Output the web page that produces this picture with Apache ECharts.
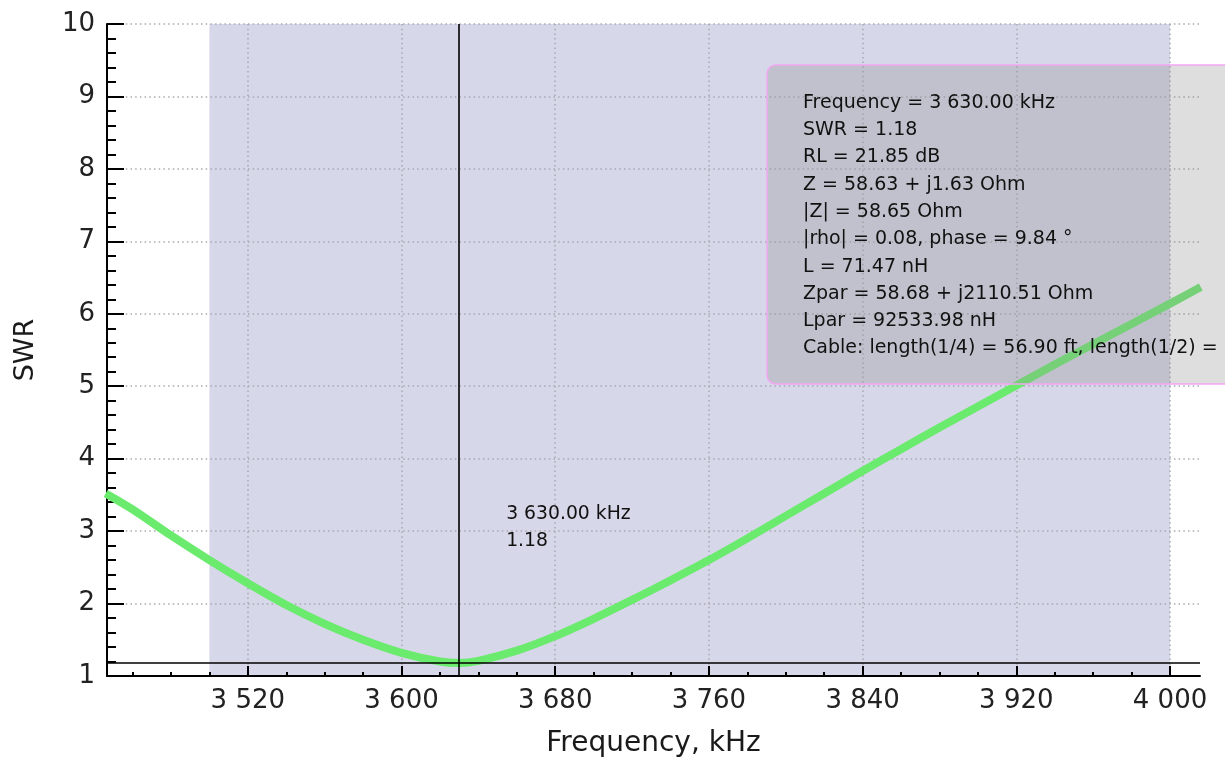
<!DOCTYPE html>
<html>
<head>
<meta charset="utf-8">
<script src="https://cdn.jsdelivr.net/npm/echarts@6/dist/echarts.min.js"></script>
<style>
html,body{margin:0;padding:0;background:#fff;}
#chart{width:1225px;height:763px;}
</style>
</head>
<body>
<div id="chart"></div>
<script>
// ---- data ----
const freqs = [3446, 3460, 3480, 3500, 3520, 3540, 3560, 3580, 3600, 3620, 3630, 3640, 3660, 3680, 3700, 3720, 3740, 3760, 3780, 3800, 3820, 3840, 3860, 3880, 3900, 3920, 3940, 3960, 3980, 4000, 4016];
const swr   = [3.52, 3.30, 2.94, 2.60, 2.28, 1.98, 1.72, 1.50, 1.32, 1.20, 1.18, 1.21, 1.35, 1.55, 1.79, 2.05, 2.32, 2.60, 2.90, 3.21, 3.52, 3.83, 4.13, 4.43, 4.72, 5.01, 5.30, 5.58, 5.86, 6.14, 6.37];
const xMajorTicks = [3520, 3600, 3680, 3760, 3840, 3920, 4000];
const xMinorTicks = [3460, 3480, 3500, 3540, 3560, 3580, 3620, 3640, 3660, 3700, 3720, 3740, 3780, 3800, 3820, 3860, 3880, 3900, 3940, 3960, 3980];
const xRange = [3446.7, 4015.6];
const yRange = [1, 10];
const bandRange = [3500, 4000];
const cursorFreq = 3630;
const cursorSWR = 1.18;
const cursorLabel = ['3 630.00 kHz', '1.18'];
const infoLines = [
  'Frequency = 3 630.00 kHz',
  'SWR = 1.18',
  'RL = 21.85 dB',
  'Z = 58.63 + j1.63 Ohm',
  '|Z| = 58.65 Ohm',
  '|rho| = 0.08, phase = 9.84 °',
  'L = 71.47 nH',
  'Zpar = 58.68 + j2110.51 Ohm',
  'Lpar = 92533.98 nH',
  'Cable: length(1/4) = 56.90 ft, length(1/2) ='
];
const xName = 'Frequency, kHz';
const yName = 'SWR';

// ---- chart ----
const FONT = 'DejaVu Sans';
const fmtK = v => Math.round(v).toString().replace(/\B(?=(\d{3})+(?!\d))/g, ' ');
const gridDots = {color: '#a9a9b3', width: 1.5, type: [1.5, 3.2]};

const chart = echarts.init(document.getElementById('chart'), null, {renderer: 'canvas'});
const option = {
  animation: false,
  backgroundColor: '#ffffff',
  grid: {left: 107, right: 25, top: 24, bottom: 86, containLabel: false},
  xAxis: [{
    type: 'value', min: xRange[0], max: xRange[1], z: 2,
    name: xName, nameLocation: 'middle', nameGap: 54,
    nameTextStyle: {fontFamily: FONT, fontSize: 28, color: '#1a1a1a'},
    axisLine: {show: true, onZero: false, lineStyle: {color: '#000', width: 2}},
    axisTick: {show: true, inside: true, length: 10, customValues: xMajorTicks, lineStyle: {color: '#000', width: 2}},
    axisLabel: {show: true, customValues: xMajorTicks, formatter: fmtK, margin: 12,
      fontFamily: FONT, fontSize: 26, color: '#222'},
    splitLine: {show: true, lineStyle: gridDots}
  }, {
    type: 'value', min: xRange[0], max: xRange[1], position: 'bottom', z: 2,
    axisLine: {show: false},
    axisTick: {show: true, inside: true, length: 4, customValues: xMinorTicks, lineStyle: {color: '#000', width: 2}},
    axisLabel: {show: false},
    splitLine: {show: false}
  }],
  yAxis: {
    type: 'value', min: yRange[0], max: yRange[1], interval: 1, z: 2,
    name: yName, nameLocation: 'middle', nameGap: 68, nameRotate: 90,
    nameTextStyle: {fontFamily: FONT, fontSize: 27, color: '#1a1a1a'},
    axisLine: {show: true, onZero: false, lineStyle: {color: '#000', width: 2}},
    axisTick: {show: true, inside: true, length: 17, lineStyle: {color: '#000', width: 2}},
    minorTick: {show: true, splitNumber: 5, length: 9, lineStyle: {color: '#000', width: 2}},
    axisLabel: {margin: 12, fontFamily: FONT, fontSize: 26, color: '#222'},
    splitLine: {show: true, lineStyle: gridDots}
  },
  series: [{
    type: 'line', name: 'band', z: 1, data: [], silent: true,
    markArea: {
      silent: true,
      itemStyle: {color: '#d6d7e8'},
      data: [[{xAxis: bandRange[0]}, {xAxis: bandRange[1]}]]
    }
  }, {
    type: 'line', name: 'SWR', z: 3,
    data: freqs.map((f, i) => [f, swr[i]]),
    smooth: 0.3, showSymbol: false, clip: true,
    lineStyle: {color: '#6beb6e', width: 8},
    markLine: {
      silent: true, symbol: 'none', z: 4,
      label: {show: false},
      lineStyle: {color: '#000', width: 1.6, type: 'solid'},
      data: [{xAxis: cursorFreq}, {yAxis: cursorSWR}]
    }
  }]
};
chart.setOption(option);

// annotation graphics positioned from the axis scale
const cp = chart.convertToPixel({xAxisIndex: 0, yAxisIndex: 0}, [cursorFreq, cursorSWR]);
chart.setOption({
  graphic: [{
    type: 'text', z: 50,
    x: cp[0] + 47, y: cp[1] - 162,
    style: {text: cursorLabel.join('\n'), fontFamily: FONT, fontSize: 18.8, lineHeight: 26.7, fill: '#111'}
  }, {
    type: 'rect', z: 100,
    shape: {x: 767, y: 65, width: 520, height: 319, r: 9},
    style: {fill: 'rgba(142,142,142,0.29)', stroke: '#f2a6f2', lineWidth: 1.5}
  }, {
    type: 'text', z: 101,
    x: 803, y: 89.2,
    style: {text: infoLines.join('\n'), fontFamily: FONT, fontSize: 19, lineHeight: 27.3, fill: '#111'}
  }]
});
</script>
</body>
</html>
